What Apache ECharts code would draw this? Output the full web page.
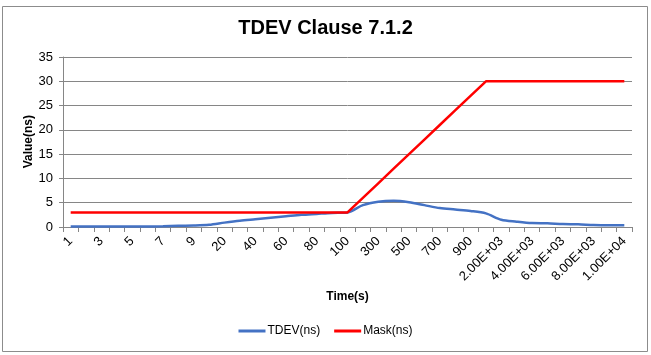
<!DOCTYPE html>
<html>
<head>
<meta charset="utf-8">
<script src="https://cdn.jsdelivr.net/npm/echarts@6/dist/echarts.min.js"></script>
<style>html,body{margin:0;padding:0;background:#fff;}#c{width:651px;height:355px;}</style>
</head>
<body>
<div id="c"></div>
<script>
const categories = ['1','2','3','4','5','6','7','8','9','10',
  '20','30','40','50','60','70','80','90','100',
  '200','300','400','500','600','700','800','900','1000',
  '2.00E+03','3.00E+03','4.00E+03','5.00E+03','6.00E+03','7.00E+03','8.00E+03','9.00E+03','1.00E+04'];
const tdev = [0.1,0.1,0.1,0.1,0.1,0.1,0.15,0.25,0.3,0.45,
  0.9,1.3,1.6,1.9,2.2,2.5,2.7,2.9,3.0,
  4.5,5.2,5.4,5.1,4.5,3.9,3.6,3.3,2.8,
  1.5,1.1,0.8,0.75,0.6,0.55,0.4,0.35,0.35];
const mask = [3,3,3,3,3,3,3,3,3,3,
  3,3,3,3,3,3,3,3,3,
  6,9,12,15,18,21,24,27,30,
  30,30,30,30,30,30,30,30,30];
const yTicks = [0,5,10,15,20,25,30,35];

const font = 'Liberation Sans';
const chart = echarts.init(document.getElementById('c'), null, {renderer:'canvas'});
chart.setOption({
  animation:false,
  backgroundColor:'#fff',
  title:{text:'TDEV Clause 7.1.2', left:'center', top:13,
    textStyle:{fontFamily:font, fontSize:20, fontWeight:'bold', color:'#000'}},
  graphic:[
    {type:'rect', shape:{x:2.5,y:6.5,width:645,height:345}, style:{fill:'none', stroke:'#8c8c8c', lineWidth:1}, silent:true},
    {type:'text', left:23, top:115, rotation:Math.PI/2, silent:true,
      style:{text:'Value(ns)', font:'bold 12px "Liberation Sans"', fill:'#000'}}
  ],
  legend:{bottom:13, left:'center', itemWidth:27, itemHeight:3, itemGap:14, icon:'rect',
    textStyle:{fontFamily:font, fontSize:12, color:'#000', padding:[0,0,0,-3]},
    data:['TDEV(ns)','Mask(ns)']},
  grid:{left:63, right:19, top:57, bottom:128},
  xAxis:{type:'category', data:categories, boundaryGap:true,
    name:'Time(s)', nameLocation:'middle', nameGap:64,
    nameTextStyle:{fontFamily:font, fontSize:12, fontWeight:'bold', color:'#000'},
    axisLine:{lineStyle:{color:'#868686'}},
    axisTick:{show:true, interval:0, length:5, lineStyle:{color:'#868686'}},
    axisLabel:{interval:1, rotate:45, fontFamily:font, fontSize:13, color:'#000', margin:12}},
  yAxis:{type:'value', min:yTicks[0], max:yTicks[yTicks.length-1], interval:5,
    axisLine:{show:true, lineStyle:{color:'#868686'}},
    axisTick:{show:true, length:4, lineStyle:{color:'#868686'}},
    splitLine:{lineStyle:{color:'#868686'}},
    axisLabel:{fontFamily:font, fontSize:13, color:'#000', margin:10}},
  series:[
    {name:'TDEV(ns)', type:'line', data:tdev, smooth:0.3, showSymbol:false, symbol:'none',
      lineStyle:{color:'#4472C4', width:2.5}, itemStyle:{color:'#4472C4'}},
    {name:'Mask(ns)', type:'line', data:mask, showSymbol:false, symbol:'none',
      lineStyle:{color:'#FF0000', width:2.5}, itemStyle:{color:'#FF0000'}}
  ]
});
</script>
</body>
</html>
